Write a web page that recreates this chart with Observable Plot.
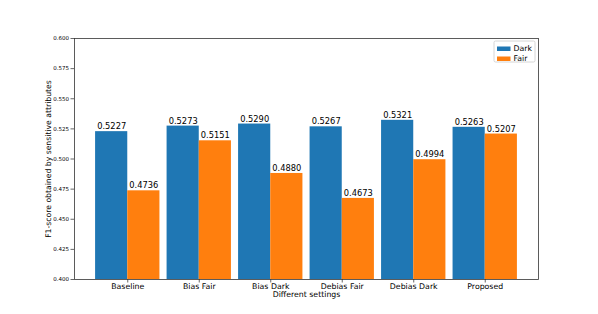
<!DOCTYPE html>
<html>
<head>
<meta charset="utf-8">
<script src="https://cdn.jsdelivr.net/npm/d3@7"></script>
<script src="https://cdn.jsdelivr.net/npm/@observablehq/plot@0.6"></script>
<style>
  html, body { margin: 0; padding: 0; background: #fff; }
  #chart svg { display: block; }
</style>
</head>
<body>
<div id="chart"></div>
<script>
const categories = ["Baseline", "Bias Fair", "Bias Dark", "Debias Fair", "Debias Dark", "Proposed"];
const darkValues = [0.5227, 0.5273, 0.5290, 0.5267, 0.5321, 0.5263];
const fairValues = [0.4736, 0.5151, 0.4880, 0.4673, 0.4994, 0.5207];
const seriesNames = ["Dark", "Fair"];
const seriesColors = ["#1f77b4", "#ff7f0e"];
const yTicks = [0.400, 0.425, 0.450, 0.475, 0.500, 0.525, 0.550, 0.575, 0.600];

const barWidth = 0.45;
const rows = [];
categories.forEach((c, i) => {
  rows.push({cat: c, i, series: "Dark", value: darkValues[i], x1: i - barWidth, x2: i});
  rows.push({cat: c, i, series: "Fair", value: fairValues[i], x1: i, x2: i + barWidth});
});

const font = "DejaVu Sans, sans-serif";
const W = 598, H = 314;
const mL = 74, mR = 60, mT = 38, mB = 35;

const plot = Plot.plot({
  width: W,
  height: H,
  marginLeft: mL,
  marginRight: mR,
  marginTop: mT,
  marginBottom: mB,
  style: {fontFamily: font, background: "#fff", color: "#000"},
  x: {domain: [-0.745, 5.745], axis: null},
  y: {domain: [0.4, 0.6], axis: null},
  color: {domain: seriesNames, range: seriesColors},
  marks: [
    Plot.rectY(rows, {x1: "x1", x2: "x2", y1: 0.4, y2: "value", fill: "series"}),
    Plot.text(rows, {
      x: d => (d.x1 + d.x2) / 2, y: "value",
      text: d => d.value.toFixed(4),
      dy: -5, fontSize: 8.3, fill: "#000", fontFamily: font
    }),
    // y axis
    Plot.axisY({
      ticks: yTicks, tickFormat: d3.format(".3f"), tickSize: 3.5,
      fontSize: 5.5, tickPadding: 2, label: null, stroke: "#000", strokeWidth: 0.6
    }),
    Plot.text(["F1-score obtained by sensitive attributes"], {
      frameAnchor: "left", rotate: -90, textAnchor: "middle", dx: -26, fontSize: 7.7, fill: "#000", fontFamily: font
    }),
    // x axis
    Plot.axisX({
      ticks: d3.range(categories.length), tickFormat: i => categories[i],
      tickSize: 3.5, fontSize: 7.8, tickPadding: 0.3, label: null, stroke: "#000", strokeWidth: 0.6
    }),
    Plot.text(["Different settings"], {
      frameAnchor: "bottom", dy: 17.5, fontSize: 7.8, fill: "#000", fontFamily: font
    }),
    Plot.frame({stroke: "#333", strokeWidth: 0.8})
  ]
});

document.getElementById("chart").appendChild(plot);

// legend (upper right inside axes)
const svg = d3.select(plot);
const lx = W - mR - 44, ly = mT + 3;
const lg = svg.append("g").attr("font-family", font).attr("font-size", 7.8).attr("text-anchor", "start");
lg.append("rect").attr("x", lx).attr("y", ly).attr("width", 41).attr("height", 21)
  .attr("fill", "#fff").attr("fill-opacity", 0.8).attr("stroke", "#ccc").attr("stroke-width", 0.8).attr("rx", 1.5);
seriesNames.forEach((s, k) => {
  const yy = ly + 4 + k * 10;
  lg.append("rect").attr("x", lx + 3).attr("y", yy + 1.5).attr("width", 13.5).attr("height", 4.5).attr("fill", seriesColors[k]);
  lg.append("text").attr("x", lx + 19.5).attr("y", yy + 6.3).attr("text-anchor", "start").text(s).attr("fill", "#000");
});
</script>
</body>
</html>
